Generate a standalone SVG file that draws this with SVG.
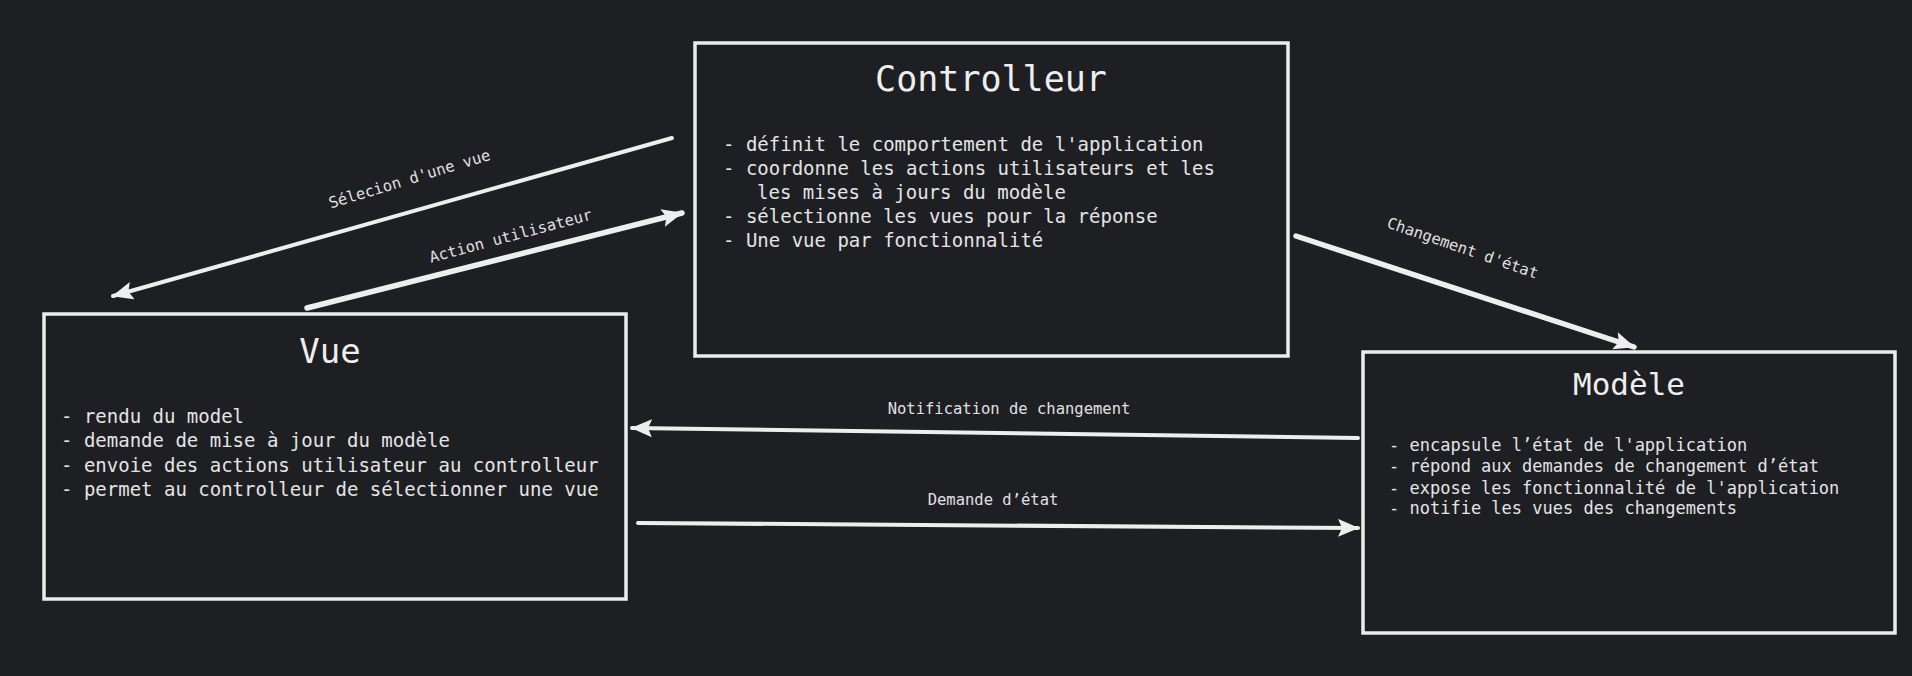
<svg xmlns="http://www.w3.org/2000/svg" width="1912" height="676" viewBox="0 0 1912 676">
<style>
.bg{fill:#1e1f22}
.box{fill:#1e1f22;stroke:#ececec;stroke-width:3.5}
.title{font-family:"DejaVu Sans Mono","Liberation Mono",monospace;fill:#eeeeee;text-anchor:middle}
.body{font-family:"DejaVu Sans Mono","Liberation Mono",monospace;fill:#e4e4e4}
.lbl{font-family:"DejaVu Sans Mono","Liberation Mono",monospace;fill:#e0e0e0;font-size:15.5px;text-anchor:middle}
.conn{stroke:#eeeeee;stroke-width:4;fill:none;stroke-linecap:round;marker-end:url(#ah)}
.thick{stroke-width:5.5}
</style>
<defs>
<marker id="ah" markerUnits="userSpaceOnUse" markerWidth="24" markerHeight="20" refX="20" refY="9" orient="auto">
<path d="M0,0 L21,9 L0,18 L4,9 z" fill="#eeeeee"/>
</marker>
</defs>
<rect class="bg" x="0" y="0" width="1912" height="676"/>

<g id="controlleur">
<rect class="box" x="695" y="43" width="593" height="313"/>
<text class="title" x="991" y="91" font-size="35">Controlleur</text>
<text class="body" font-size="19" x="723" y="151">- définit le comportement de l'application</text>
<text class="body" font-size="19" x="723" y="175">- coordonne les actions utilisateurs et les</text>
<text class="body" font-size="19" x="757" y="199">les mises à jours du modèle</text>
<text class="body" font-size="19" x="723" y="223">- sélectionne les vues pour la réponse</text>
<text class="body" font-size="19" x="723" y="247">- Une vue par fonctionnalité</text>
</g>

<g id="vue">
<rect class="box" x="44" y="314" width="582" height="285"/>
<text class="title" x="330" y="363" font-size="34">Vue</text>
<text class="body" font-size="19" x="61" y="423">- rendu du model</text>
<text class="body" font-size="19" x="61" y="447">- demande de mise à jour du modèle</text>
<text class="body" font-size="19" x="61" y="472">- envoie des actions utilisateur au controlleur</text>
<text class="body" font-size="19" x="61" y="496">- permet au controlleur de sélectionner une vue</text>
</g>

<g id="modele">
<rect class="box" x="1363" y="352" width="532" height="281"/>
<text class="title" x="1629" y="395" font-size="31">Modèle</text>
<text class="body" font-size="17" x="1389" y="451">- encapsule l’état de l'application</text>
<text class="body" font-size="17" x="1389" y="472">- répond aux demandes de changement d’état</text>
<text class="body" font-size="17" x="1389" y="494">- expose les fonctionnalité de l'application</text>
<text class="body" font-size="17" x="1389" y="514">- notifie les vues des changements</text>
</g>

<g id="connectors">
<path class="conn" d="M672,138 L113,296"/>
<path class="conn thick" d="M307,308 L682,213"/>
<path class="conn thick" d="M1296,236 L1634,347"/>
<path class="conn" d="M1358,438 L632,428"/>
<path class="conn" d="M638,523 L1358,528"/>
<text class="lbl" transform="translate(411,184) rotate(-17)">Sélecion d'une vue</text>
<text class="lbl" transform="translate(512,241) rotate(-15)">Action utilisateur</text>
<text class="lbl" transform="translate(1461,253) rotate(19)">Changement d'état</text>
<text class="lbl" x="1009" y="414">Notification de changement</text>
<text class="lbl" x="993" y="505">Demande d’état</text>
</g>
</svg>
